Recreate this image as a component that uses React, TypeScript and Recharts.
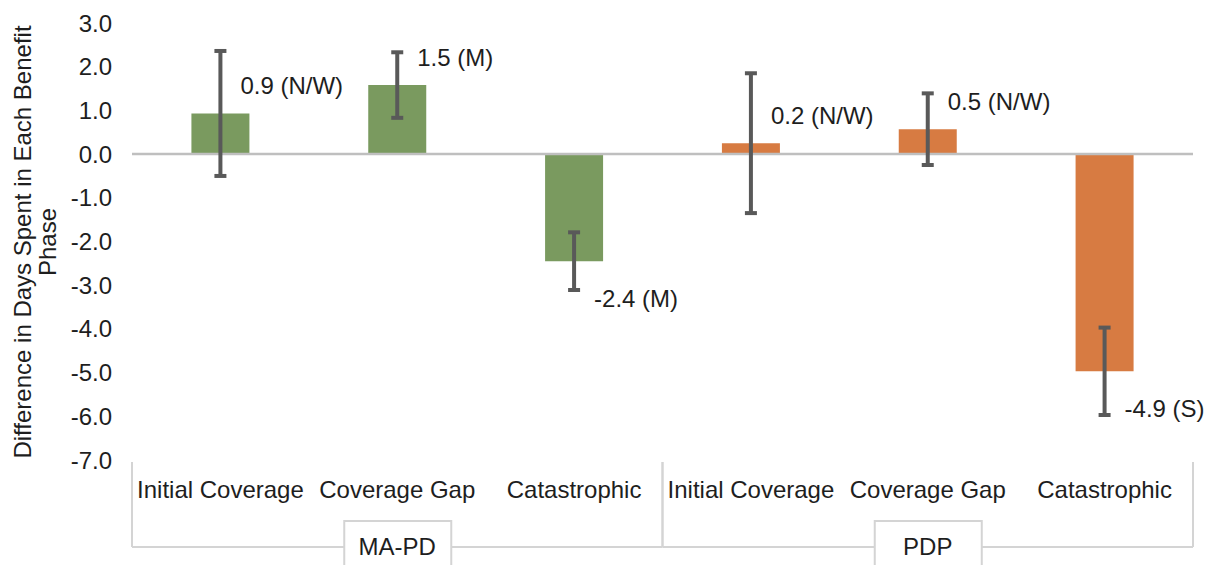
import { BarChart, Bar, XAxis, YAxis, Cell, ErrorBar, LabelList, ReferenceLine } from 'recharts';

const categories = ['Initial Coverage', 'Coverage Gap', 'Catastrophic', 'Initial Coverage', 'Coverage Gap', 'Catastrophic'];
const groups = ['MA-PD', 'MA-PD', 'MA-PD', 'PDP', 'PDP', 'PDP'];
const values = [0.93, 1.58, -2.45, 0.25, 0.57, -4.97];
const errorMargins = [1.43, 0.75, 0.66, 1.6, 0.82, 1.0];
const reportedValues = ['0.9', '1.5', '-2.4', '0.2', '0.5', '-4.9'];
const effectSizes = ['N/W', 'M', 'M', 'N/W', 'N/W', 'S'];
const yTicks = [3, 2, 1, 0, -1, -2, -3, -4, -5, -6, -7];

const groupColors: Record<string, string> = { 'MA-PD': '#7A9A5F', PDP: '#D77B42' };

const FONT = '"Liberation Sans", Arial, sans-serif';
const TEXT = '#1e1e1e';
const LINE = '#d4d4d4';

const data = categories.map((name, i) => ({
  key: i,
  name,
  group: groups[i],
  value: values[i],
  err: errorMargins[i],
  label: `${reportedValues[i]} (${effectSizes[i]})`,
}));

function CategoryTick(props: any) {
  const { x, y, payload, index } = props;
  const half = payload && payload.offset ? payload.offset : props.width / categories.length / 2;
  const band = half * 2;
  const row = data[index];
  const left = x - half;
  const right = x + half;
  const groupSize = groups.filter((g) => g === row.group).length;
  const firstInGroup = groups.indexOf(row.group) === index;
  const lastInGroup = groups.lastIndexOf(row.group) === index;
  const midIndex = groups.indexOf(row.group) + Math.floor(groupSize / 2);
  const lineY = y + 87;
  return (
    <g>
      {firstInGroup && (
        <>
          <line x1={left} x2={left} y1={y + 2} y2={lineY} stroke={LINE} strokeWidth={2} />
          <line x1={left} x2={left + band * groupSize} y1={lineY} y2={lineY} stroke={LINE} strokeWidth={2} />
        </>
      )}
      {lastInGroup && <line x1={right} x2={right} y1={y + 2} y2={lineY} stroke={LINE} strokeWidth={2} />}
      <text x={x} y={y + 29} textAnchor="middle" dominantBaseline="central" fontFamily={FONT} fontSize={24} fill={TEXT}>
        {row.name}
      </text>
      {index === midIndex && (
        <>
          <rect x={x - 53} y={y + 61} width={107} height={60} fill="#fff" stroke={LINE} strokeWidth={2} />
          <text x={x} y={y + 86} textAnchor="middle" dominantBaseline="central" fontFamily={FONT} fontSize={24} fill={TEXT}>
            {row.group}
          </text>
        </>
      )}
    </g>
  );
}

function ValueLabel(props: any) {
  const { x, y, width, height, value, index } = props;
  const top = Math.min(y, y + height);
  const bottom = Math.max(y, y + height);
  const positive = values[index] >= 0;
  const ty = positive ? top - 28 : bottom + 37;
  return (
    <text x={x + width / 2 + 20} y={ty} dominantBaseline="central" fontFamily={FONT} fontSize={24} fill={TEXT}>
      {value}
    </text>
  );
}

export default function App() {
  return (
    <div style={{ position: 'absolute', left: 0, top: 0, width: 1217, height: 565, background: '#fff' }}>
      <BarChart
        width={1217}
        height={565}
        data={data}
        margin={{ top: 23, right: 24, bottom: 0, left: 0 }}
        barCategoryGap="33.6%"
      >
        <YAxis
          type="number"
          domain={[-7, 3]}
          ticks={yTicks}
          interval={0}
          width={132}
          axisLine={false}
          tickLine={false}
          tickSize={0}
          tickMargin={20}
          tickFormatter={(v: number) => v.toFixed(1)}
          tick={{ fontFamily: FONT, fontSize: 24, fill: TEXT }}
          label={
            <text transform="translate(0,242) rotate(-90)" textAnchor="middle" fontFamily={FONT} fontSize={24} fill={TEXT}>
              <tspan x={0} y={31}>Difference in Days Spent in Each Benefit</tspan>
              <tspan x={0} y={56}>Phase</tspan>
            </text>
          }
        />
        <XAxis
          dataKey="key"
          type="category"
          height={105}
          axisLine={false}
          tickLine={false}
          tickSize={0}
          tickMargin={0}
          interval={0}
          tick={<CategoryTick />}
        />
        <ReferenceLine y={0} stroke="#bfbfbf" strokeWidth={2.5} />
        <Bar dataKey="value" isAnimationActive={false}>
          {data.map((d) => (
            <Cell key={`cell-${d.key}`} fill={groupColors[d.group]} />
          ))}
          <ErrorBar dataKey="err" direction="y" width={6} stroke="#595959" strokeWidth={4} />
          <LabelList dataKey="label" content={<ValueLabel />} />
        </Bar>
      </BarChart>
    </div>
  );
}
